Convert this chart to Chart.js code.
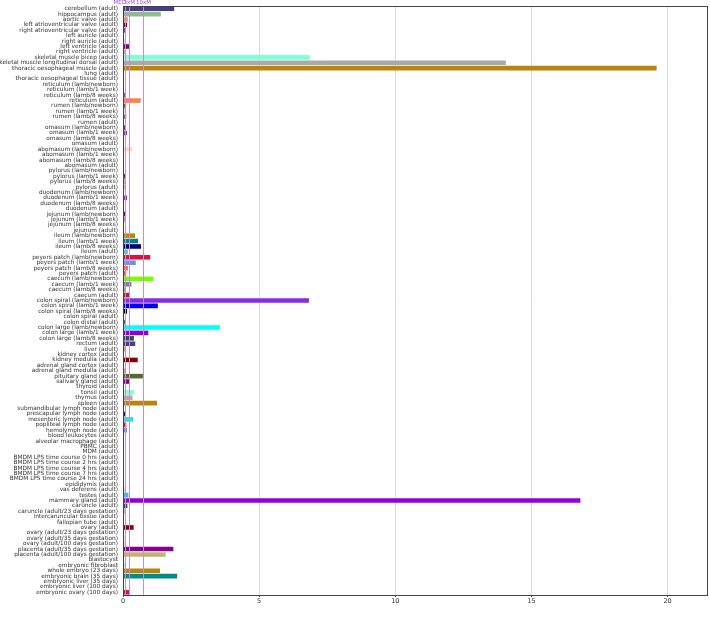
<!DOCTYPE html>
<html><head><meta charset="utf-8">
<script src="https://cdn.jsdelivr.net/npm/chart.js@4"></script>
<style>html,body{margin:0;padding:0;background:#fff}</style>
</head><body>
<canvas id="c" width="710" height="629"></canvas>
<script>
const tissues=["cerebellum (adult)","hippocampus (adult)","aortic valve (adult)","left atrioventricular valve (adult)","right atrioventricular valve (adult)","left auricle (adult)","right auricle (adult)","left ventricle (adult)","right ventricle (adult)","skeletal muscle bicep (adult)","skeletal muscle longitudinal dorsal (adult)","thoracic oesophageal muscle (adult)","lung (adult)","thoracic oesophageal tissue (adult)","reticulum (lamb/newborn)","reticulum (lamb/1 week)","reticulum (lamb/8 weeks)","reticulum (adult)","rumen (lamb/newborn)","rumen (lamb/1 week)","rumen (lamb/8 weeks)","rumen (adult)","omasum (lamb/newborn)","omasum (lamb/1 week)","omasum (lamb/8 weeks)","omasum (adult)","abomasum (lamb/newborn)","abomasum (lamb/1 week)","abomasum (lamb/8 weeks)","abomasum (adult)","pylorus (lamb/newborn)","pylorus (lamb/1 week)","pylorus (lamb/8 weeks)","pylorus (adult)","duodenum (lamb/newborn)","duodenum (lamb/1 week)","duodenum (lamb/8 weeks)","duodenum (adult)","jejunum (lamb/newborn)","jejunum (lamb/1 week)","jejunum (lamb/8 weeks)","jejunum (adult)","ileum (lamb/newborn)","ileum (lamb/1 week)","ileum (lamb/8 weeks)","ileum (adult)","peyers patch (lamb/newborn)","peyers patch (lamb/1 week)","peyers patch (lamb/8 weeks)","peyers patch (adult)","caecum (lamb/newborn)","caecum (lamb/1 week)","caecum (lamb/8 weeks)","caecum (adult)","colon spiral (lamb/newborn)","colon spiral (lamb/1 week)","colon spiral (lamb/8 weeks)","colon spiral (adult)","colon distal (adult)","colon large (lamb/newborn)","colon large (lamb/1 week)","colon large (lamb/8 weeks)","rectum (adult)","liver (adult)","kidney cortex (adult)","kidney medulla (adult)","adrenal gland cortex (adult)","adrenal gland medulla (adult)","pituitary gland (adult)","salivary gland (adult)","thyroid (adult)","tonsil (adult)","thymus (adult)","spleen (adult)","submandibular lymph node (adult)","prescapular lymph node (adult)","mesenteric lymph node (adult)","popliteal lymph node (adult)","hemolymph node (adult)","blood leukocytes (adult)","alveolar macrophage (adult)","PBMC (adult)","MDM (adult)","BMDM LPS time course 0 hrs (adult)","BMDM LPS time course 2 hrs (adult)","BMDM LPS time course 4 hrs (adult)","BMDM LPS time course 7 hrs (adult)","BMDM LPS time course 24 hrs (adult)","epididymis (adult)","vas deferens (adult)","testes (adult)","mammary gland (adult)","caruncle (adult)","caruncle (adult/23 days gestation)","intercaruncular tissue (adult)","fallopian tube (adult)","ovary (adult)","ovary (adult/23 days gestation)","ovary (adult/35 days gestation)","ovary (adult/100 days gestation)","placenta (adult/35 days gestation)","placenta (adult/100 days gestation)","blastocyst","embryonic fibroblast","whole embryo (23 days)","embryonic brain (35 days)","embryonic liver (35 days)","embryonic liver (100 days)","embryonic ovary (100 days)"];
const values=[1.88,1.39,0.18,0.15,0.1,0.02,0.05,0.22,0.1,6.86,14.06,19.6,0.01,0.01,0.02,0.02,0.1,0.65,0.1,0.05,0.12,0.01,0.1,0.15,0.03,0.01,0.35,0.02,0.02,0.01,0.01,0.1,0.08,0.06,0.01,0.15,0.02,0.01,0.1,0.08,0.03,0.01,0.44,0.55,0.66,0.18,1.0,0.47,0.18,0.12,1.12,0.31,0.08,0.24,6.83,1.28,0.15,0.03,0.07,3.56,0.93,0.4,0.45,0.07,0.01,0.54,0.01,0.07,0.73,0.22,0.01,0.4,0.35,1.25,0.01,0.1,0.38,0.12,0.15,0.01,0.01,0.01,0.01,0.01,0.01,0.01,0.01,0.01,0.02,0.05,0.2,16.8,0.16,0.05,0.01,0.01,0.39,0.02,0.05,0.05,1.85,1.57,0.01,0.05,1.36,1.99,0.01,0.01,0.24];
const colors=["#483d8b","#8fbc8f","#e9967a","#8b0000","#9932cc","#ffe4c4","#bc8f8f","#800080","#d2b48c","#7fffd4","#a9a9a9","#b8860b","#bc8f8f","#ffa07a","#d2b48c","#bc8f8f","#6a5acd","#ff7f50","#a0522d","#bdb76b","#708090","#d3d3d3","#a52a2a","#9932cc","#f4a460","#d3d3d3","#ffdab9","#d2b48c","#bc8f8f","#ffa07a","#d3d3d3","#483d8b","#ffa07a","#bc8f8f","#d2b48c","#9932cc","#bc8f8f","#d3d3d3","#800080","#fa8072","#bc8f8f","#d3d3d3","#b8860b","#008080","#000080","#48d1cc","#dc143c","#6495ed","#ff6347","#d2691e","#7cfc00","#778899","#bc8f8f","#b22222","#8a2be2","#0000ff","#000000","#ffa07a","#556b2f","#00ffff","#9400d3","#2f4f4f","#483d8b","#bc8f8f","#d3d3d3","#8b0000","#d3d3d3","#fa8072","#556b2f","#8b008b","#d3d3d3","#7fffd4","#c0a0b0","#b8860b","#d3d3d3","#191970","#22e5f0","#dc143c","#6495ed","#d3d3d3","#d3d3d3","#d3d3d3","#d3d3d3","#d3d3d3","#d3d3d3","#d3d3d3","#d3d3d3","#d3d3d3","#d2b48c","#bc8f8f","#1ec8e6","#9400d3","#2f4f4f","#800080","#d3d3d3","#d3d3d3","#8b0000","#ffa07a","#ffa07a","#bc8f8f","#8b008b","#bdb76b","#d3d3d3","#bc8f8f","#b8860b","#008b8b","#d3d3d3","#d3d3d3","#dc143c"];
const refValues=[0.075,0.225,0.75];
const refLabels=["MED","3xM","10xM"];
const xTicks=[0,5,10,15,20];
const xMax=21.45;

const FONT="DejaVu Sans";

// reference lines, their labels and the box round the plot
const refPlugin={
  id:"refs",
  afterDatasetsDraw(chart){
    const {ctx,chartArea:a,scales:{x}}=chart;
    ctx.save();
    ctx.strokeStyle="#c690d2";ctx.lineWidth=1;
    refValues.forEach(v=>{
      const px=Math.round(x.getPixelForValue(v))+0.5;
      ctx.beginPath();ctx.moveTo(px,a.top);ctx.lineTo(px,a.bottom);ctx.stroke();
    });
    ctx.fillStyle="#a050bb";ctx.font="5.5px '"+FONT+"'";ctx.textBaseline="bottom";
    refLabels.forEach((t,i)=>{
      const px=x.getPixelForValue(refValues[i]);
      ctx.textAlign=i==0?"right":"center";
      ctx.fillText(t,i==0?px+1:px,a.top-0.5);
    });
    ctx.strokeStyle="#444";
    ctx.strokeRect(Math.round(a.left)+0.5,Math.round(a.top)+0.5,Math.round(a.right-a.left),Math.round(a.bottom-a.top));
    ctx.restore();
  }
};

new Chart(document.getElementById("c"),{
  type:"bar",
  data:{labels:tissues,datasets:[{data:values,backgroundColor:colors,borderColor:colors,borderWidth:0,barPercentage:0.85,categoryPercentage:1}]},
  options:{
    indexAxis:"y",responsive:false,animation:false,devicePixelRatio:1,
    layout:{padding:{top:6,right:3,left:0,bottom:0}},
    plugins:{legend:{display:false},tooltip:{enabled:false}},
    scales:{
      x:{min:0,max:xMax,
        afterBuildTicks:s=>{s.ticks=xTicks.map(v=>({value:v}));},
        afterFit:s=>{s.height=34;},
        grid:{color:c=>c.tick&&c.tick.value===0?"rgba(0,0,0,0)":"#dcdcdc",tickLength:2,tickColor:"#444"},
        border:{color:"#444"},
        ticks:{font:{family:FONT,size:6.5},color:"#333",padding:0,maxRotation:0}
      },
      y:{
        afterFit:s=>{s.width=123;},
        grid:{display:false,drawTicks:true,tickLength:3,tickColor:"#444"},
        border:{color:"#444"},
        ticks:{autoSkip:false,font:{family:FONT,size:5.8},color:"#333",padding:2}
      }
    }
  },
  plugins:[refPlugin]
});
</script>
</body></html>
